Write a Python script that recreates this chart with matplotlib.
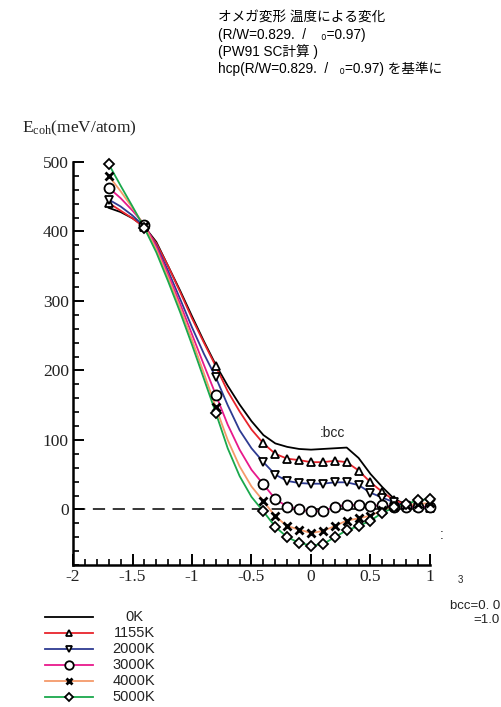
import numpy as np
import matplotlib
matplotlib.use("Agg")
import matplotlib.pyplot as plt
from matplotlib.ticker import MultipleLocator, FixedLocator
from matplotlib.lines import Line2D

plt.rcParams['mathtext.fontset'] = 'custom'
plt.rcParams['mathtext.rm'] = 'Liberation Serif'
plt.rcParams['mathtext.it'] = 'Liberation Serif:italic'

# ---------------- data ----------------
x_grid = [-1.7, -1.6, -1.5, -1.4, -1.3, -1.2, -1.1, -1.0, -0.9, -0.8, -0.7, -0.6,
          -0.5, -0.4, -0.3, -0.2, -0.1, 0.0, 0.1, 0.2, 0.3, 0.4, 0.5, 0.6, 0.7,
          0.8, 0.9, 1.0]
marker_x = [-1.7, -1.4, -0.8, -0.4, -0.3, -0.2, -0.1, 0.0, 0.1, 0.2, 0.3, 0.4,
            0.5, 0.6, 0.7, 0.8, 0.9, 1.0]

e_0K = [434, 428, 419, 407, 385, 350, 315, 278, 242, 208, 178, 151, 127, 107,
        95, 90, 87, 86, 87, 88, 89, 74, 51, 32, 15, 7, 3, 0]
e_1155K = [441, 430, 419, 406, 383, 350, 313, 275, 240, 206, 170, 141, 115, 95,
           80, 73, 71, 68, 68, 70, 68, 56, 39, 25, 13, 7, 4, 2]
e_2000K = [446, 436, 423, 407, 380, 343, 303, 262, 224, 190, 150, 114, 88, 68,
           50, 41, 38, 37, 37, 39, 39, 35, 24, 17, 10, 5, 3, 2]
e_3000K = [463, 448, 430, 410, 378, 338, 296, 252, 208, 165, 122, 86, 57, 36,
           15, 4, 0, -3, -2, 3, 7, 6, 5, 6, 4, 4, 4, 4]
e_4000K = [480, 458, 434, 408, 374, 333, 290, 244, 196, 147, 100, 62, 33, 12,
           -10, -24, -29, -34, -31, -24, -16, -13, -9, -1, 4, 6, 8, 9]
e_5000K = [497, 466, 436, 405, 370, 328, 284, 237, 188, 139, 88, 48, 18, -3,
           -25, -40, -48, -52, -50, -40, -30, -24, -16, -5, 3, 8, 13, 15]

labels = ['0K', '1155K', '2000K', '3000K', '4000K', '5000K']
series = [e_0K, e_1155K, e_2000K, e_3000K, e_4000K, e_5000K]
colors = ['#000000', '#e8242c', '#2e3b92', '#e8198b', '#f59a6a', '#1aa84c']
markers = [None, '^', 'v', 'o', 'x', 'D']
msizes = [0, 5.8, 5.8, 7.2, 5.5, 5.0]

x_ticks = [-2, -1.5, -1, -0.5, 0, 0.5, 1]
x_ticklabels = ['-2', '-1.5', '-1', '-0.5', '0', '0.5', '1']
y_ticks = [0, 100, 200, 300, 400, 500]

# ---------------- figure ----------------
W, H = 501, 707
fig = plt.figure(figsize=(W / 100, H / 100), dpi=100)
ax = fig.add_axes([73 / W, (H - 565) / H, (430 - 73) / W, (565 - 162) / H])

xg = np.array(x_grid)
mask = np.isin(np.round(xg, 2), np.round(marker_x, 2))

ax.axhline(0, color='black', lw=1.1, ls=(0, (8, 5)), zorder=1)


def marker_style(m, ms):
    if m == 'x':
        return dict(marker='x', ms=ms, mew=2, mec='black')
    return dict(marker=m, ms=ms, mew=1.3, mec='black', mfc='white')


for lab, ys, c, m, ms in zip(labels, series, colors, markers, msizes):
    ys = np.array(ys, dtype=float)
    ax.plot(xg, ys, color=c, lw=1.3, zorder=2, clip_on=False)
    if m is not None:
        ax.plot(xg[mask], ys[mask], ls='none', zorder=3, clip_on=False,
                **marker_style(m, ms))

ax.set_xlim(-2, 1)
ax.set_ylim(-80, 500)
ax.spines['top'].set_visible(False)
ax.spines['right'].set_visible(False)
for s in ['left', 'bottom']:
    ax.spines[s].set_linewidth(1.8)
ax.xaxis.set_major_locator(FixedLocator(x_ticks))
ax.set_xticklabels(x_ticklabels)
ax.yaxis.set_major_locator(FixedLocator(y_ticks))
ax.xaxis.set_minor_locator(MultipleLocator(0.1))
ax.yaxis.set_minor_locator(MultipleLocator(20))
ax.tick_params(which='major', direction='in', length=8, width=1.4,
               labelsize=12.5, pad=3)
ax.tick_params(which='minor', direction='in', length=4.5, width=1.2)
for t in ax.get_xticklabels() + ax.get_yticklabels():
    t.set_fontfamily('Liberation Serif')
    t.set_color('#222222')

ax.text(0.07, 100, ':bcc', fontsize=10, family=['Liberation Sans', 'DejaVu Sans'],
        va='bottom', ha='left', color='#222222')

# y label
fig.text(22 / W, 1 - 128 / H, r'$\mathrm{E_{coh}(meV/atom)}$', fontsize=12.5,
         ha='left', va='center', color='#222222')

# title
tfam = ['Liberation Sans', 'Noto Sans CJK JP', 'DejaVu Sans']
tx = 218 / W
title_lines = ['オメガ変形 温度による変化',
               '(R/W=0.829.  /    \u2080=0.97)',
               '(PW91 SC計算 )',
               'hcp(R/W=0.829.  /   \u2080=0.97) を基準に']
for i, line in enumerate(title_lines):
    fig.text(tx, 1 - (18 + 17 * i) / H, line, fontsize=9.8, family=tfam,
             ha='left', va='center', color='#000000')

# right-side notes
nfam = ['Liberation Sans', 'DejaVu Sans']
fig.text(442 / W, 1 - 535 / H, ':', fontsize=10, family=nfam, ha='center',
         va='center', color='#222222')
fig.text(460 / W, 1 - 580 / H, '3', fontsize=7, family=nfam, ha='center',
         va='center', color='#222222')
fig.text(500 / W, 1 - 606 / H, 'bcc=0. 0', fontsize=9.5, family=nfam, ha='right',
         va='center', color='#222222')
fig.text(500 / W, 1 - 620 / H, '=1.0', fontsize=9.5, family=nfam, ha='right',
         va='center', color='#222222')

# legend (drawn manually, figure pixel layout)
for i, (lab, c, m, ms) in enumerate(zip(labels, colors, markers, msizes)):
    yy = 1 - (617 + 16 * i) / H
    fig.add_artist(Line2D([45 / W, 93 / W], [yy, yy], color=c, lw=1.3,
                          transform=fig.transFigure))
    if m is not None:
        fig.add_artist(Line2D([69 / W], [yy], ls='none',
                              transform=fig.transFigure,
                              **marker_style(m, ms * 0.85)))
    fig.text(134 / W, yy, lab, fontsize=10.5, family='Liberation Sans',
             ha='center', va='center', color='#222222')

fig.savefig('out.png', dpi=100)
